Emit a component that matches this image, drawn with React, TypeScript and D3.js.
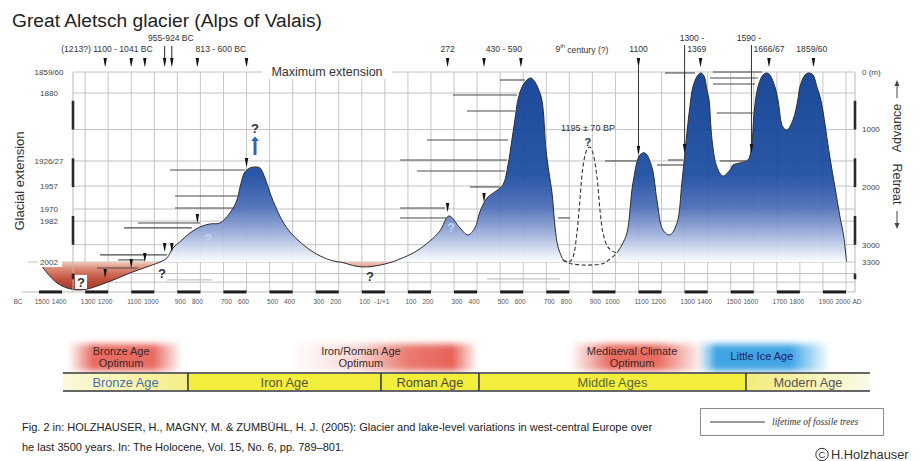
import React from "react";
import * as d3 from "d3";

const SANS = "'Liberation Sans', Arial, Helvetica, sans-serif";
const SERIF = "'Liberation Serif', 'Times New Roman', serif";

// Glacier front: metres of retreat behind the 1859/60 maximum, by year (BC negative)
const earlyYears = [-1500, -1465, -1422, -1379, -1335, -1290, -1235, -1170, -1105, -1032, -975, -945, -919, -889, -845, -802, -758, -715, -672, -641, -628, -607, -585, -563, -542, -520, -498, -468, -442, -412, -368, -325, -281, -225, -182, -140, -100, -50, 0, 31, 66, 131, 196, 239, 278, 326, 360, 391, 412, 443, 477, 512, 534, 551, 564, 577, 595, 616, 634, 651, 664, 681, 699, 712, 725, 738, 751, 773];
const earlyRetreat = [3300, 3490, 3663, 3750, 3785, 3770, 3698, 3600, 3490, 3385, 3300, 3229, 3056, 2951, 2795, 2691, 2639, 2622, 2448, 2222, 1997, 1736, 1667, 1649, 1667, 1840, 2101, 2396, 2604, 2778, 2951, 3090, 3194, 3281, 3310, 3360, 3385, 3375, 3335, 3300, 3247, 3125, 2934, 2760, 2500, 2708, 2830, 2708, 2431, 2188, 2083, 1962, 1615, 1181, 833, 486, 260, 139, 104, 174, 278, 486, 1354, 1750, 2101, 2691, 3038, 3264];

const lateYears = [1007, 1028, 1050, 1076, 1106, 1128, 1158, 1180, 1206, 1236, 1267, 1288, 1310, 1323, 1336, 1358, 1371, 1384, 1397, 1406, 1419, 1440, 1466, 1497, 1510, 1540, 1575, 1592, 1601, 1618, 1640, 1657, 1670, 1692, 1705, 1726, 1744, 1770, 1791, 1800, 1822, 1839, 1857, 1874, 1891, 1930, 1952, 1974, 1990, 2002];
const lateRetreat = [3142, 3003, 2795, 1927, 1441, 1406, 1649, 2222, 2743, 2830, 2622, 1927, 1059, 600, 260, 52, 17, 69, 313, 486, 1181, 1649, 1806, 1701, 1615, 1580, 1528, 1233, 712, 260, 52, 17, 52, 260, 486, 955, 1007, 833, 486, 260, 52, 17, 52, 260, 486, 1476, 1997, 2517, 2850, 3300];

// Uncertain 9th-century advance (dashed)
const ninthYears = [773, 800, 816, 833, 846, 859, 876, 889, 902, 920, 933, 946, 967, 990, 1007];
const ninthRetreat = [3264, 3300, 3212, 2795, 2222, 1649, 1354, 1302, 1406, 1823, 2396, 2795, 3038, 3120, 3142];
const ninthBaseYears = [773, 800, 850, 900, 950, 1007];
const ninthBaseRetreat = [3264, 3320, 3350, 3350, 3320, 3142];

// Left axis: year of the historical front position; right axis: metres
const extentLabels = ["1859/60", "1880", "1926/27", "1957", "1970", "1982", "2002"];
const extentRetreat = [0, 365, 1545, 1980, 2380, 2590, 3300];
const metreTicks = [0, 1000, 2000, 3000, 3300];
const metreLabels = ["0 (m)", "1000", "2000", "3000", "3300"];
const gridRetreat = [0, 365, 1000, 1545, 1980, 2380, 2590, 3000, 3300, 3500, 3650];
const bandFrom = [500, 1500, 2500, 3500];
const bandTo = [1000, 2000, 3000, 3600];

const centuryYears = [-1500, -1400, -1300, -1200, -1100, -1000, -900, -800, -700, -600, -500, -400, -300, -200, -100, 0, 100, 200, 300, 400, 500, 600, 700, 800, 900, 1000, 1100, 1200, 1300, 1400, 1500, 1600, 1700, 1800, 1900, 2000];
const centuryLabels = ["1500", "1400", "1300", "1200", "1100", "1000", "900", "800", "700", "600", "500", "400", "300", "200", "100", "-1/+1", "100", "200", "300", "400", "500", "600", "700", "800", "900", "1000", "1100", "1200", "1300", "1400", "1500", "1600", "1700", "1800", "1900", "2000"];

// Lifetime of fossil trees: first year, last year, front position (m)
const treeFrom = [-932, -910, -910, -1071, -1131, -1235, -1157, -1248, 183, 66, 139, 369, 66, 66, 499, 295, 356, 751, 955, 1180, 1228, 1453, 1440, 1215, 1423, 1410, 1423];
const treeTo = [-607, -637, -650, -802, -837, -945, -1040, -1071, 534, 530, 521, 499, 261, 269, 608, 573, 564, 803, 1093, 1293, 1293, 1575, 1596, 1345, 1635, 1618, 1605];
const treeRetreat = [1701, 2153, 2361, 2622, 2708, 3177, 3264, 3403, 1181, 1528, 1719, 1997, 2361, 2535, 139, 399, 677, 2535, 1545, 1615, 1528, 1545, 712, 17, 0, 104, 208];
const faintFrom = [-945, 443];
const faintTo = [-750, 759];
const faintRetreat = [3611, 3594];

// Dated advances
const dateYears = [-1213, -1100, -1041, -955, -924, -813, -600, 272, 430, 590, 1100, 1300, 1369, 1590, 1666, 1859];
const dateTip = [3576, 3403, 3299, 3125, 3125, 2622, 1649, 2431, 2257, null, 1441, 1406, null, 1406, null, null];
const dateTop = ["short", "short", "short", "tall", "tall", "short", "short", "short", "short", "short", "short", "line", "short", "line", "short", "short"];
const dateStem = [false, false, false, false, false, false, false, false, false, false, true, false, false, false, false, false];

const dateLabelText = ["(1213?) 1100 - 1041 BC", "955-924 BC", "813 - 600 BC", "272", "430 - 590", "century (?)", "1100", "1300 -", "1369", "1590 -", "1666/67", "1859/60"];
const dateLabelYear = [-1205, -928, -711, 272, 516, 855, 1100, 1332, 1353, 1579, 1666, 1852];
const dateLabelRow = [1, 0, 1, 1, 1, 1, 1, 0, 1, 0, 1, 1];

// Question marks on uncertain sections
const queryYears = [-563, -767, -1318, -967, -65, 287, 881];
const queryRetreat = [972, 2882, 3646, 3490, 3541, 2691, 1215];
const queryStyle = ["dark", "light", "boxed", "dark", "dark", "light", "small"];

// Climate phases and cultural periods
const climateNames = [["Bronze Age", "Optimum"], ["Iron/Roman Age", "Optimum"], ["Mediaeval Climate", "Optimum"], ["Little Ice Age"]];
const climateFrom = [-1374, -403, 803, 1358];
const climateTo = [-880, 404, 1388, 1930];
const climateTextYear = [-1144, -104, 1072, 1635];
const climateColor = ["#e2473a", "#e2473a", "#e2473a", "#1d95e0"];
const climateStops = [
  [[0, 0], [0.22, 0.8], [0.75, 0.8], [1, 0]],
  [[0, 0], [0.35, 0.22], [0.62, 0.72], [0.86, 0.85], [1, 0]],
  [[0, 0], [0.3, 0.8], [0.65, 0.8], [1, 0]],
  [[0, 0], [0.14, 0.85], [0.7, 0.85], [1, 0]],
];
const periodNames = ["Bronze Age", "Iron Age", "Roman Age", "Middle Ages", "Modern Age"];
const periodFrom = [-1396, -854, -17, 408, 1566];
const periodTo = [-854, -17, 408, 1566, 2104];
const periodFill = ["url(#cellBronze)", "#f3ee3c", "#f3ee3c", "#f3ee3c", "url(#cellModern)"];
const periodText = ["#4a70b0", "#55553e", "#4a4a3c", "#5c6840", "#555555"];

const iceStopRetreat = [0, 1800, 2350, 2850, 3200, 3300, 3300, 3420, 3600, 3800];
const iceStopColor = ["#0b3b90", "#1a4ba0", "#4a6cb6", "#a3b4de", "#e9eef8", "#ffffff", "#efc8ba", "#d9806a", "#bd4430", "#982515"];

type P = [number, number];

export default function App() {
  const x = d3.scaleLinear().domain([-1500, 2000]).range([39, 846]);
  const y = d3.scaleLinear().domain([0, 3300]).range([72, 262]);
  const axisLeft = 73;
  const axisRight = 855;
  const floor = y(3820);
  const top = y(0);

  const curve = d3.curveCatmullRom.alpha(0.5);
  const area = d3.area<P>().x((d) => x(d[0])).y0(y(3300)).y1((d) => y(d[1])).curve(curve);
  const line = d3.line<P>().x((d) => x(d[0])).y((d) => y(d[1])).curve(curve);

  const early = d3.zip(earlyYears, earlyRetreat) as P[];
  const late = d3.zip(lateYears, lateRetreat) as P[];
  const ninth = d3.zip(ninthYears, ninthRetreat) as P[];
  const ninthBase = d3.zip(ninthBaseYears, ninthBaseRetreat) as P[];

  const wedge = (cx: number, y0: number, y1: number) =>
    `M${cx - 1.7},${y0}L${cx + 1.7},${y0}L${cx + 0.6},${y1 - 2.5}L${cx},${y1}L${cx - 0.6},${y1 - 2.5}Z`;

  const isBarStart = (yr: number) => ((yr + 1500) / 100) % 2 === 0;

  return (
    <svg width={919} height={461} style={{ position: "absolute", left: 0, top: 0, display: "block" }} fontFamily={SANS}>
      <defs>
        <linearGradient id="iceFill" gradientUnits="userSpaceOnUse" x1={0} x2={0} y1={y(0)} y2={y(3800)}>
          {iceStopRetreat.map((m, i) => (
            <stop key={i} offset={m / 3800} stopColor={iceStopColor[i]} />
          ))}
        </linearGradient>
        {climateStops.map((stops, i) => (
          <linearGradient key={i} id={`glow${i}`} x1="0" x2="1" y1="0" y2="0">
            {stops.map(([o, a], j) => (
              <stop key={j} offset={o} stopColor={climateColor[i]} stopOpacity={a} />
            ))}
          </linearGradient>
        ))}
        <linearGradient id="cellBronze" x1="0" x2="1" y1="0" y2="0">
          <stop offset="0" stopColor="#fbf9dc" />
          <stop offset="1" stopColor="#f4ee86" />
        </linearGradient>
        <linearGradient id="cellModern" x1="0" x2="1" y1="0" y2="0">
          <stop offset="0" stopColor="#f2ec78" />
          <stop offset="1" stopColor="#fbfaea" />
        </linearGradient>
        <filter id="soft" x="-10%" y="-40%" width="120%" height="180%">
          <feGaussianBlur stdDeviation="1.5 3" />
        </filter>
      </defs>

      <rect x={0} y={0} width={919} height={461} fill="#ffffff" />

      <text x={12} y={27} fontSize={19.2} fill="#222">Great Aletsch glacier (Alps of Valais)</text>

      {/* grid */}
      {centuryYears.filter((yr) => yr >= -1300).map((yr) => (
        <line key={yr} x1={x(yr)} x2={x(yr)} y1={top} y2={floor} stroke="#c6c6c6" strokeWidth={1} />
      ))}
      {gridRetreat.map((m) => (
        <line key={m} x1={m === 3300 ? 28 : axisLeft} x2={axisRight} y1={y(m)} y2={y(m)} stroke="#c2c2c2" strokeWidth={1} />
      ))}
      <line x1={22} x2={axisRight} y1={floor} y2={floor} stroke="#bdbdbd" strokeWidth={1} />

      {/* glacier front */}
      <path d={area(early) ?? ""} fill="url(#iceFill)" fillOpacity={0.93} />
      <path d={area(late) ?? ""} fill="url(#iceFill)" fillOpacity={0.93} />
      <path d={line(early) ?? ""} fill="none" stroke="#2e2e2e" strokeWidth={1} />
      <path d={line(late) ?? ""} fill="none" stroke="#2e2e2e" strokeWidth={1} />
      <path d={line(ninth) ?? ""} fill="none" stroke="#333" strokeWidth={1.1} strokeDasharray="4 2.5" />
      <path d={line(ninthBase) ?? ""} fill="none" stroke="#333" strokeWidth={1.1} strokeDasharray="4 2.5" />

      {/* fossil trees */}
      {treeFrom.map((f, i) => (
        <line key={i} x1={x(f)} x2={x(treeTo[i])} y1={y(treeRetreat[i])} y2={y(treeRetreat[i])} stroke="#4a4a4a" strokeWidth={1.1} />
      ))}
      {faintFrom.map((f, i) => (
        <line key={i} x1={x(f)} x2={x(faintTo[i])} y1={y(faintRetreat[i])} y2={y(faintRetreat[i])} stroke="#b4b4b4" strokeWidth={1} />
      ))}

      {/* axes */}
      {[axisLeft, axisRight].map((ax) => (
        <g key={ax}>
          <line x1={ax} x2={ax} y1={top} y2={floor} stroke="#b8b8b8" strokeWidth={1} />
          {bandFrom.map((b, i) => (
            <line key={i} x1={ax} x2={ax} y1={y(b)} y2={y(bandTo[i])} stroke="#2a2a2a" strokeWidth={2.6} />
          ))}
        </g>
      ))}
      {extentLabels.map((t, i) => (
        <g key={t}>
          {t === "2002" && <rect x={38} y={y(extentRetreat[i]) - 5} width={24} height={10} fill="#fff" />}
          <text x={49} y={y(extentRetreat[i])} dy="0.35em" textAnchor="middle" fontSize={8} fill="#444">{t}</text>
        </g>
      ))}
      {metreTicks.map((m, i) => (
        <text key={m} x={862} y={y(m)} dy="0.35em" fontSize={8} fill="#444">{metreLabels[i]}</text>
      ))}
      <text transform="translate(19,181) rotate(-90)" textAnchor="middle" dy="0.35em" fontSize={13} fill="#333">Glacial extension</text>
      <text transform="translate(897,128) rotate(-90)" textAnchor="middle" dy="0.35em" fontSize={12.5} fill="#333">Advance</text>
      <text transform="translate(897,184) rotate(90)" textAnchor="middle" dy="0.35em" fontSize={12.5} fill="#333">Retreat</text>
      <line x1={897} x2={897} y1={84} y2={98} stroke="#444" strokeWidth={1} />
      <path d="M894.5,86L897,80L899.5,86Z" fill="#444" />
      <line x1={897} x2={897} y1={211} y2={225} stroke="#444" strokeWidth={1} />
      <path d="M894.5,223L897,229L899.5,223Z" fill="#444" />

      <rect x={262} y={top - 7} width={130} height={14} fill="#fff" />
      <text x={327} y={top} dy="0.35em" textAnchor="middle" fontSize={12.5} fill="#333">Maximum extension</text>

      {/* time axis */}
      {centuryYears.filter((yr) => isBarStart(yr) && yr < 2000).map((yr) => (
        <rect key={yr} x={x(yr)} y={floor - 1.5} width={x(yr + 100) - x(yr)} height={3} fill="#1e1e1e" />
      ))}
      <text x={18} y={302} dy="0.35em" textAnchor="middle" fontSize={6.6} fill="#555">BC</text>
      {centuryYears.map((yr, i) => (
        <text key={yr} x={x(yr) + (isBarStart(yr) ? 3 : -3)} y={302} dy="0.35em" textAnchor="middle" fontSize={6.6} fill="#555">
          {centuryLabels[i]}
        </text>
      ))}
      <text x={x(2000) + 11} y={302} dy="0.35em" textAnchor="middle" fontSize={6.6} fill="#555">AD</text>

      {/* dated advances */}
      {dateYears.map((yr, i) => {
        const cx = x(yr);
        const tip = dateTip[i];
        const kind = dateTop[i];
        return (
          <g key={yr} fill="#111" stroke="none">
            {kind === "short" && <path d={wedge(cx, 58, 67)} />}
            {kind === "tall" && (
              <>
                <line x1={cx} x2={cx} y1={46} y2={60} stroke="#222" strokeWidth={1} />
                <path d={wedge(cx, 58, 67)} />
              </>
            )}
            {kind === "line" && tip !== null && (
              <line x1={cx} x2={cx} y1={45} y2={y(tip) - 8} stroke="#333" strokeWidth={1} />
            )}
            {dateStem[i] && tip !== null && <line x1={cx} x2={cx} y1={66} y2={y(tip) - 8} stroke="#333" strokeWidth={1} />}
            {tip !== null && <path d={wedge(cx, y(tip) - 9, y(tip))} />}
          </g>
        );
      })}
      {dateLabelText.map((t, i) => (
        <text key={i} x={x(dateLabelYear[i])} y={dateLabelRow[i] ? 48.5 : 37.5} dy="0.35em" textAnchor="middle" fontSize={8.6} fill="#333">
          {t === "century (?)" ? (
            <>
              9<tspan fontSize={5.5} dy="-0.6em">th</tspan>
              <tspan dy="0.6em"> century (?)</tspan>
            </>
          ) : (
            t
          )}
        </text>
      ))}

      {/* uncertain sections */}
      {queryYears.map((yr, i) => {
        const cx = x(yr);
        const cy = y(queryRetreat[i]);
        const s = queryStyle[i];
        return (
          <g key={i}>
            {s === "boxed" && <rect x={cx - 6} y={cy - 7} width={12} height={14} fill="#fff" />}
            <text x={cx} y={cy} dy="0.36em" textAnchor="middle" fontWeight="bold" fontSize={s === "small" ? 11 : 13}
              fill={s === "light" ? "#c7d2ee" : "#333"}>?</text>
          </g>
        );
      })}
      <line x1={x(-563)} x2={x(-563)} y1={y(1441)} y2={y(1200)} stroke="#2d63b8" strokeWidth={3} />
      <path d={`M${x(-563) - 4},${y(1200)}L${x(-563) + 4},${y(1200)}L${x(-563)},${y(1120)}Z`} fill="#2d63b8" />
      <text x={x(881)} y={y(972)} dy="0.35em" textAnchor="middle" fontSize={9} fill="#333">1195 ± 70 BP</text>

      {/* climate phases */}
      {climateNames.map((lines, i) => (
        <g key={i}>
          <rect x={x(climateFrom[i])} y={344} width={x(climateTo[i]) - x(climateFrom[i])} height={27} fill={`url(#glow${i})`} filter="url(#soft)" />
          {lines.map((t, j) => (
            <text key={j} x={x(climateTextYear[i])} y={lines.length === 1 ? 360 : 354.5 + j * 12.6} textAnchor="middle" fontSize={11}
              fill={i === 3 ? "#1b2656" : "#3a2c2c"}>{t}</text>
          ))}
        </g>
      ))}

      {/* cultural periods */}
      {periodNames.map((p, i) => (
        <g key={p}>
          <rect x={x(periodFrom[i])} y={373} width={x(periodTo[i]) - x(periodFrom[i])} height={18} fill={periodFill[i]} />
          <text x={(x(periodFrom[i]) + x(periodTo[i])) / 2} y={386.5} textAnchor="middle" fontSize={12.8} fill={periodText[i]}>{p}</text>
        </g>
      ))}
      <line x1={x(periodFrom[0])} x2={x(periodTo[4])} y1={373} y2={373} stroke="#666" strokeWidth={2} />
      <line x1={x(periodFrom[0])} x2={x(periodTo[4])} y1={391} y2={391} stroke="#666" strokeWidth={2} />
      {periodFrom.slice(1).map((f) => (
        <line key={f} x1={x(f)} x2={x(f)} y1={373} y2={391} stroke="#3a3a3a" strokeWidth={1.6} />
      ))}

      {/* legend */}
      <rect x={700.5} y={408.5} width={183} height={27} fill="none" stroke="#8a8a8a" strokeWidth={1} />
      <line x1={710} x2={765} y1={422} y2={422} stroke="#333" strokeWidth={1} />
      <text x={772} y={425} fontFamily={SERIF} fontStyle="italic" fontSize={9.6} fill="#333">lifetime of fossile trees</text>

      {/* source */}
      <text x={22} y={431} fontSize={11} fill="#222">Fig. 2 in: HOLZHAUSER, H., MAGNY, M. &amp; ZUMBÜHL, H. J. (2005): Glacier and lake-level variations in west-central Europe over</text>
      <text x={22} y={451} fontSize={11} fill="#222">he last 3500 years. In: The Holocene, Vol. 15, No. 6, pp. 789–801.</text>
      <circle cx={822} cy={454.5} r={6.2} fill="none" stroke="#333" strokeWidth={1} />
      <text x={822} y={454.5} dy="0.36em" textAnchor="middle" fontSize={9.5} fill="#333">C</text>
      <text x={831} y={459} fontSize={12.8} fill="#333">H.Holzhauser</text>
    </svg>
  );
}
